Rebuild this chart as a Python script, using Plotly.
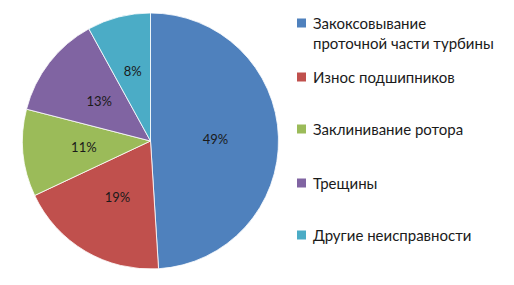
import plotly.graph_objects as go

categories = ["Закоксовывание<br>проточной части турбины", "Износ подшипников",
              "Заклинивание ротора", "Трещины", "Другие неисправности"]
values = [49, 19, 11, 13, 8]
colors = ["#4F81BD", "#C0504D", "#9BBB59", "#8064A2", "#4BACC6"]

OFF = 8  # default page body margin
W, H = 514 - OFF, 285 - OFF
FONT = "Lato, 'Open Sans', sans-serif"

cx, cy, R = 150.5 - OFF, 141 - OFF, 128  # pie centre / radius in figure pixels


def dom(r):
    return dict(x=[(cx - r) / W, (cx + r) / W], y=[1 - (cy + r) / H, 1 - (cy - r) / H])


fig = go.Figure()
fig.add_trace(go.Pie(
    labels=categories, values=values, sort=False, direction="clockwise", rotation=0,
    marker=dict(colors=colors, line=dict(color="white", width=0.8)),
    textinfo="none", domain=dom(R), showlegend=False,
    hoverinfo="label+percent",
))
# transparent overlay ring used only to place percentage labels near half radius
fig.add_trace(go.Pie(
    labels=categories, values=values, sort=False, direction="clockwise", rotation=0,
    hole=0.45,
    marker=dict(colors=["rgba(0,0,0,0)"] * len(values), line=dict(width=0)),
    texttemplate="%{percent:.0%}", textposition="inside",
    insidetextorientation="horizontal",
    textfont=dict(family=FONT, size=13, color="#1a1a1a"),
    domain=dom(R * 0.7), showlegend=False, hoverinfo="skip",
))

# legend drawn as annotations + squares
leg_y = [23, 77, 129, 183, 235]  # pixel centres from top of page
for cat, col, yp in zip(categories, colors, leg_y):
    yc = 1 - (yp - OFF) / H
    fig.add_shape(type="rect", xref="paper", yref="paper",
                  x0=(297 - OFF) / W, x1=(306 - OFF) / W, y0=yc - 4.5 / H, y1=yc + 4.5 / H,
                  fillcolor=col, line=dict(width=0))
    fig.add_annotation(xref="paper", yref="paper", x=(311 - OFF) / W, y=1 - (yp - OFF - 11) / H,
                       text=cat, showarrow=False, xanchor="left", yanchor="top",
                       align="left", font=dict(family=FONT, size=15, color="#1a1a1a"))

fig.update_layout(width=W, height=H, margin=dict(l=0, r=0, t=0, b=0),
                  paper_bgcolor="white", plot_bgcolor="white")
fig.write_html("out.html")
